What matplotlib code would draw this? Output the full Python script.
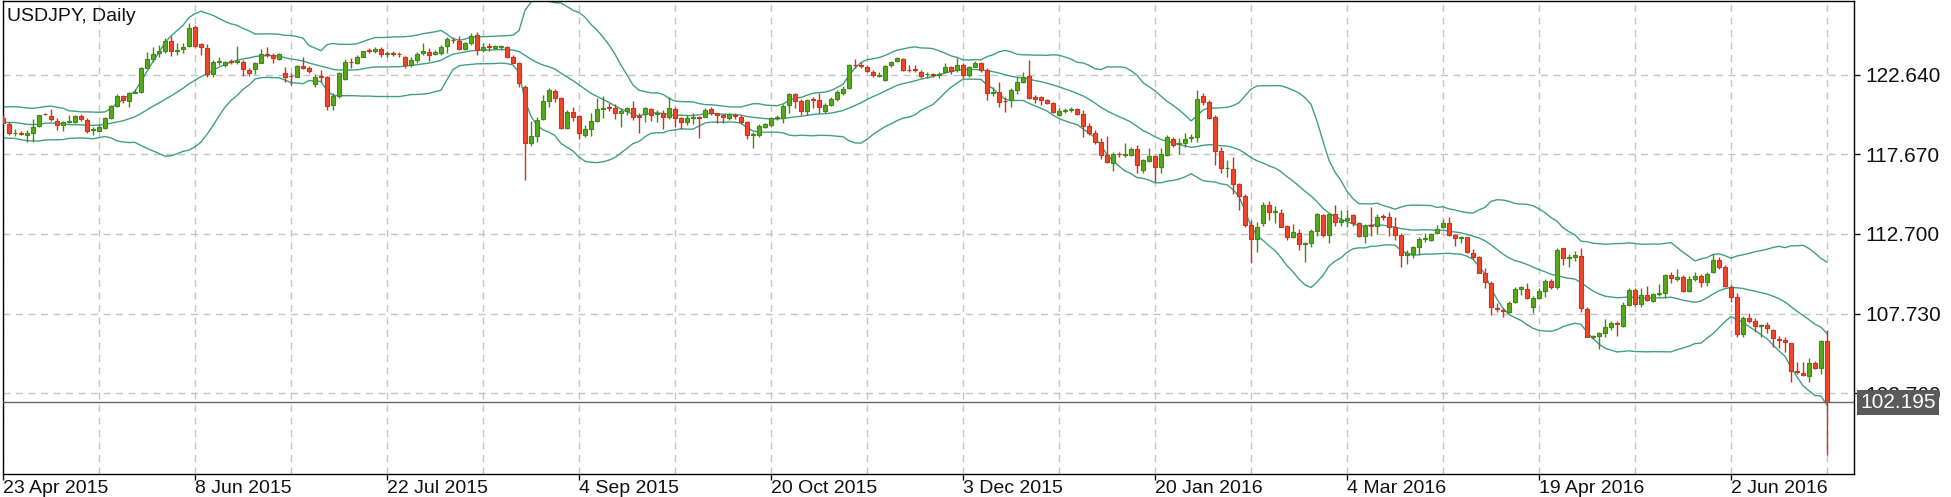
import numpy as np
import pandas as pd
import matplotlib
matplotlib.use('Agg')
import matplotlib.pyplot as plt
import matplotlib.transforms as mtransforms

# closes before the first visible bar (only used to seed the 20-bar bands)
pre_closes = [119.20, 119.10, 120.10, 120.10, 119.70, 119.75, 118.95, 119.45, 120.20, 120.20,
              120.60, 120.20, 120.10, 119.40, 119.60, 118.90, 118.95, 119.45, 119.75]

opens = [
    119.92, 119.56, 118.98, 119.02, 118.88, 119.02, 119.44, 120.21, 120.06, 119.77,
    119.48, 119.70, 119.67, 120.06, 119.81, 119.19, 119.15, 119.29, 119.94, 120.69,
    121.31, 121.02, 121.52, 121.58, 123.08, 123.60, 124.00, 124.14, 124.74, 124.14,
    124.26, 124.43, 125.64, 124.53, 124.28, 122.68, 123.45, 123.24, 123.48, 123.45,
    123.43, 122.93, 122.97, 123.39, 123.93, 123.87, 123.64, 122.77, 122.58, 122.52,
    123.18, 123.08, 122.06, 122.58, 122.47, 120.73, 121.31, 122.35, 123.45, 123.35,
    123.76, 124.18, 124.14, 124.26, 123.93, 123.97, 123.93, 123.72, 123.24, 123.55,
    123.97, 124.08, 123.91, 124.01, 124.43, 124.82, 124.76, 124.22, 124.64, 125.11,
    124.18, 124.43, 124.33, 124.35, 124.35, 123.72, 123.35, 121.85, 118.36, 118.81,
    119.85, 121.02, 121.64, 121.16, 119.33, 120.29, 120.06, 118.88, 119.23, 119.77,
    120.50, 120.60, 120.54, 120.23, 120.39, 120.54, 120.04, 120.19, 120.48, 120.17,
    120.23, 120.02, 120.50, 119.92, 119.71, 119.92, 119.98, 120.02, 120.48, 120.23,
    120.10, 119.92, 120.12, 120.02, 119.67, 118.88, 118.88, 119.40, 119.50, 119.94,
    119.94, 120.75, 121.41, 121.02, 120.39, 121.10, 121.06, 120.39, 120.75, 121.10,
    121.52, 121.79, 123.26, 123.24, 123.14, 122.83, 122.58, 122.31, 123.24, 123.51,
    123.60, 122.95, 122.97, 122.83, 122.66, 122.66, 122.64, 122.83, 123.10, 122.93,
    123.24, 122.62, 123.14, 123.35, 122.93, 121.52, 121.58, 121.02, 121.06, 121.68,
    122.20, 122.55, 121.23, 121.22, 121.06, 120.89, 120.12, 120.39, 120.43, 120.48,
    120.19, 119.44, 118.98, 118.46, 117.63, 117.15, 117.71, 117.63, 117.63, 117.98,
    116.69, 117.27, 117.57, 116.90, 117.63, 118.61, 118.30, 118.40, 118.67, 118.77,
    121.31, 120.96, 119.98, 117.90, 116.80, 116.73, 115.82, 115.07, 113.26, 112.37,
    113.36, 114.51, 114.07, 113.99, 113.20, 112.53, 112.74, 112.06, 112.12, 112.91,
    113.89, 112.64, 113.95, 113.47, 113.57, 113.89, 113.36, 112.57, 113.24, 113.20,
    113.82, 113.74, 113.11, 112.64, 111.39, 111.45, 111.91, 112.37, 112.33, 112.74,
    113.11, 113.36, 112.64, 112.43, 112.49, 111.49, 111.24, 110.24, 109.66, 108.06,
    107.96, 107.85, 108.43, 109.24, 109.24, 108.16, 108.68, 109.16, 109.79, 109.37,
    111.80, 111.18, 111.28, 111.33, 108.00, 106.29, 106.33, 106.54, 106.87, 107.12,
    106.96, 108.27, 109.20, 108.33, 108.89, 108.54, 108.95, 109.04, 110.14, 109.89,
    109.99, 109.16, 109.87, 110.08, 109.72, 110.35, 111.08, 110.62, 109.37, 108.75,
    106.46, 107.44, 107.29, 106.94, 107.02, 106.71, 106.13, 106.08, 105.88, 104.17,
    104.05, 103.84, 104.63, 104.32, 106.04,
]

highs = [
    120.10, 119.70, 119.28, 119.15, 119.20, 119.85, 120.15, 120.25, 120.52, 119.92,
    119.77, 120.12, 120.12, 120.19, 119.92, 119.40, 119.56, 120.00, 120.75, 121.43,
    121.37, 121.58, 121.72, 123.14, 124.08, 124.39, 124.49, 124.91, 125.05, 124.64,
    124.64, 125.84, 125.74, 124.64, 124.55, 123.55, 123.76, 123.51, 123.60, 124.43,
    123.55, 123.04, 123.45, 124.22, 124.35, 123.97, 123.97, 123.14, 122.72, 123.24,
    123.72, 123.18, 122.68, 122.93, 122.56, 121.47, 122.80, 123.60, 123.66, 123.87,
    124.14, 124.28, 124.39, 124.39, 124.10, 124.14, 124.05, 123.80, 123.72, 124.08,
    124.59, 124.28, 124.18, 124.49, 124.97, 124.97, 125.05, 124.68, 125.26, 125.28,
    124.59, 124.59, 124.49, 124.49, 124.43, 123.87, 123.45, 121.99, 119.77, 120.02,
    121.37, 121.79, 121.72, 121.23, 120.44, 120.60, 120.12, 119.50, 120.23, 121.16,
    121.31, 120.85, 120.81, 120.54, 120.64, 121.02, 120.23, 120.64, 120.54, 120.44,
    120.44, 121.23, 120.60, 120.02, 120.12, 120.23, 120.06, 120.54, 120.60, 120.27,
    120.19, 120.27, 120.23, 120.12, 119.77, 119.08, 119.56, 119.65, 120.00, 120.12,
    120.81, 121.47, 121.52, 121.10, 121.10, 121.27, 121.47, 120.85, 121.23, 121.68,
    121.93, 123.30, 123.60, 123.45, 123.24, 122.93, 122.83, 123.24, 123.51, 123.76,
    123.66, 123.24, 123.24, 122.93, 122.83, 122.72, 122.83, 123.35, 123.18, 123.66,
    123.35, 123.18, 123.51, 123.45, 123.03, 121.89, 122.20, 121.27, 121.79, 122.51,
    122.83, 123.55, 121.37, 121.31, 121.10, 120.95, 120.54, 120.54, 120.60, 120.54,
    120.43, 119.60, 119.19, 118.67, 118.81, 117.83, 117.83, 118.35, 118.15, 118.25,
    117.36, 118.05, 117.63, 118.05, 118.88, 118.77, 118.67, 119.02, 118.94, 121.68,
    121.47, 121.06, 120.12, 118.15, 117.31, 117.48, 115.90, 115.22, 113.57, 113.47,
    114.72, 114.78, 114.45, 114.24, 113.26, 113.32, 112.99, 112.22, 112.99, 113.99,
    113.95, 114.03, 114.51, 114.20, 114.20, 113.95, 113.47, 113.32, 114.36, 113.95,
    113.95, 114.09, 113.78, 112.74, 111.70, 111.95, 112.49, 112.78, 112.78, 113.26,
    113.61, 113.74, 112.70, 112.57, 112.53, 111.74, 111.33, 110.56, 109.79, 108.37,
    108.06, 108.54, 109.37, 109.45, 109.62, 108.83, 109.31, 109.87, 109.87, 111.80,
    111.85, 111.45, 111.66, 111.80, 108.12, 106.40, 106.60, 107.37, 107.29, 107.29,
    108.48, 109.31, 109.31, 109.31, 109.45, 108.99, 109.58, 110.20, 110.35, 110.49,
    110.14, 110.08, 110.35, 110.20, 110.35, 111.45, 111.24, 110.76, 109.51, 109.04,
    107.58, 107.79, 107.44, 107.08, 107.23, 106.75, 106.33, 106.29, 105.92, 104.73,
    104.73, 104.94, 104.79, 106.08, 106.71,
]

lows = [
    119.55, 118.88, 118.80, 118.85, 118.46, 118.46, 119.40, 120.10, 119.77, 119.19,
    119.15, 119.60, 119.60, 119.77, 119.02, 118.88, 119.10, 119.23, 119.90, 120.64,
    120.89, 120.64, 121.47, 121.52, 123.04, 123.45, 123.76, 123.97, 123.80, 123.87,
    124.01, 124.39, 124.39, 123.87, 122.47, 122.52, 123.24, 123.14, 123.30, 123.30,
    122.56, 122.56, 122.68, 123.35, 123.76, 123.35, 123.55, 122.20, 121.98, 122.47,
    122.97, 122.72, 121.85, 122.20, 120.44, 120.44, 121.20, 122.30, 123.04, 123.30,
    123.72, 124.01, 124.01, 123.76, 123.72, 123.80, 123.76, 123.04, 123.10, 123.35,
    123.87, 123.51, 123.87, 123.87, 123.97, 124.59, 124.18, 124.18, 124.49, 123.87,
    124.08, 124.14, 124.22, 124.18, 123.66, 123.35, 121.85, 116.07, 118.19, 118.46,
    119.81, 120.64, 120.96, 119.23, 119.23, 119.77, 118.61, 118.77, 118.81, 119.71,
    119.92, 120.39, 119.85, 119.40, 120.12, 119.81, 119.02, 119.71, 119.77, 119.71,
    119.23, 119.85, 119.40, 119.23, 119.50, 119.56, 118.67, 119.98, 120.12, 119.65,
    119.65, 119.81, 119.85, 119.56, 118.61, 118.04, 118.77, 119.29, 119.40, 119.81,
    119.60, 120.23, 120.54, 120.12, 120.12, 120.54, 120.27, 120.27, 120.69, 121.02,
    121.37, 121.72, 123.04, 123.04, 122.83, 122.47, 122.47, 122.27, 123.14, 123.45,
    122.89, 122.83, 122.83, 122.41, 122.41, 122.52, 122.41, 122.72, 122.68, 122.83,
    122.41, 122.47, 123.14, 122.83, 121.06, 121.31, 120.60, 120.33, 120.60, 121.43,
    122.14, 121.10, 120.85, 120.75, 120.81, 120.27, 120.06, 120.23, 120.33, 120.12,
    118.73, 118.87, 118.31, 117.36, 117.15, 116.65, 117.48, 117.52, 117.56, 116.48,
    116.52, 117.21, 115.96, 116.49, 117.56, 118.15, 117.69, 118.15, 118.46, 118.46,
    120.75, 119.85, 117.00, 116.53, 116.28, 115.20, 114.22, 113.14, 110.91, 111.60,
    113.20, 113.57, 113.36, 113.11, 112.33, 112.43, 111.70, 110.97, 111.87, 112.57,
    112.53, 112.12, 113.20, 113.20, 113.11, 113.20, 112.49, 112.16, 112.57, 112.70,
    113.57, 112.57, 112.33, 110.62, 110.83, 111.18, 111.39, 112.22, 112.28, 112.70,
    113.05, 112.57, 111.95, 112.16, 111.54, 111.12, 110.24, 109.31, 107.65, 107.85,
    107.54, 107.79, 108.41, 108.89, 108.62, 107.79, 108.62, 108.75, 109.24, 109.24,
    110.76, 110.62, 111.03, 107.85, 106.25, 106.13, 105.50, 106.25, 106.71, 106.33,
    106.92, 108.21, 108.21, 108.16, 108.54, 108.48, 108.83, 108.68, 109.66, 109.79,
    109.10, 109.10, 109.79, 109.37, 109.45, 110.29, 110.49, 109.37, 108.48, 106.29,
    106.29, 107.17, 106.60, 106.25, 106.50, 105.67, 105.56, 105.36, 103.48, 103.96,
    103.84, 103.48, 104.26, 103.96, 98.90,
]

closes = [
    119.65, 119.02, 119.02, 118.96, 119.00, 119.40, 120.12, 120.17, 119.90, 119.50,
    119.67, 119.77, 120.06, 119.85, 119.15, 119.23, 119.40, 119.92, 120.69, 121.31,
    121.06, 121.52, 121.58, 123.04, 123.60, 123.93, 124.10, 124.74, 124.14, 124.20,
    124.39, 125.55, 124.43, 124.35, 122.68, 123.45, 123.50, 123.43, 123.43, 123.50,
    122.97, 122.72, 123.35, 123.91, 123.89, 123.66, 123.91, 122.52, 122.54, 123.18,
    123.04, 122.87, 122.52, 122.52, 120.69, 121.31, 122.72, 123.43, 123.41, 123.76,
    124.12, 124.14, 124.26, 123.91, 123.97, 123.93, 123.91, 123.24, 123.55, 123.93,
    124.14, 123.87, 124.08, 124.39, 124.84, 124.78, 124.22, 124.64, 125.05, 124.18,
    124.39, 124.37, 124.41, 124.43, 123.72, 123.39, 122.10, 118.36, 118.81, 119.81,
    121.02, 121.68, 121.16, 119.33, 120.29, 120.02, 119.02, 119.23, 119.77, 120.50,
    120.54, 120.56, 120.23, 120.39, 120.58, 120.02, 120.02, 120.58, 120.12, 120.23,
    120.02, 120.54, 119.92, 119.71, 119.92, 119.98, 119.92, 120.44, 120.23, 120.15,
    120.02, 120.19, 120.06, 119.71, 118.88, 118.92, 119.44, 119.56, 119.92, 120.02,
    120.69, 121.41, 121.02, 120.39, 121.06, 121.06, 120.60, 120.75, 121.10, 121.58,
    121.72, 123.24, 123.22, 123.20, 122.89, 122.62, 122.64, 123.18, 123.45, 123.66,
    122.93, 122.93, 122.93, 122.56, 122.70, 122.62, 122.70, 123.10, 122.89, 123.24,
    122.62, 123.10, 123.39, 122.93, 121.47, 121.58, 120.95, 121.00, 121.68, 122.20,
    122.51, 121.16, 121.14, 121.06, 120.89, 120.33, 120.39, 120.43, 120.48, 120.19,
    119.44, 119.02, 118.46, 117.63, 117.21, 117.69, 117.67, 117.67, 117.98, 117.00,
    117.32, 117.57, 116.90, 117.69, 118.73, 118.25, 118.36, 118.61, 118.77, 121.10,
    120.96, 119.92, 117.90, 116.80, 116.84, 115.84, 115.07, 113.26, 112.37, 113.12,
    114.51, 114.09, 114.11, 113.16, 112.49, 112.84, 112.08, 112.12, 112.91, 113.95,
    112.64, 113.95, 113.47, 113.57, 113.67, 113.36, 112.57, 113.20, 113.20, 113.78,
    113.74, 113.11, 112.64, 111.39, 111.49, 111.87, 112.37, 112.43, 112.70, 112.99,
    113.36, 112.64, 112.43, 112.49, 111.60, 111.28, 110.29, 109.73, 108.12, 108.00,
    107.92, 108.41, 109.24, 109.37, 108.68, 108.68, 109.16, 109.79, 109.37, 111.70,
    111.18, 111.24, 111.39, 108.06, 106.29, 106.35, 106.50, 106.87, 107.12, 107.08,
    108.27, 109.20, 108.33, 108.89, 108.58, 108.95, 109.04, 110.14, 109.93, 109.99,
    109.16, 109.87, 110.08, 109.72, 110.20, 111.08, 110.66, 109.45, 108.79, 106.46,
    107.44, 107.29, 106.96, 107.02, 106.81, 106.19, 106.08, 105.98, 104.17, 104.11,
    103.90, 104.63, 104.32, 106.04, 102.195,
]

date_labels = ['23 Apr 2015', '8 Jun 2015', '22 Jul 2015', '4 Sep 2015', '20 Oct 2015',
               '3 Dec 2015', '20 Jan 2016', '4 Mar 2016', '19 Apr 2016', '2 Jun 2016']
date_pos = [0, 32, 64, 96, 128, 160, 192, 224, 256, 288]
price_ticks = [102.760, 107.730, 112.700, 117.670, 122.640]
last_price = 102.195

df = pd.DataFrame({'open': opens, 'high': highs, 'low': lows, 'close': closes})

# bollinger bands (20, 2)
all_close = pd.Series(pre_closes + closes)
n_pre = len(pre_closes)
mid = all_close.rolling(20).mean().iloc[n_pre:].values
sd = all_close.rolling(20).std(ddof=0).iloc[n_pre:].values
upper = mid + 2 * sd
lower = mid - 2 * sd

plt.rcParams['font.family'] = ['Liberation Sans', 'DejaVu Sans']

fig = plt.figure(figsize=(19.51, 4.97), dpi=100)
ax = fig.add_axes([2.5 / 1951, 23 / 497, 1851.5 / 1951, 473 / 497])

x = np.arange(len(df))
up = (df['close'] >= df['open']).values
fill = np.where(up, '#58a81c', '#f0462a')
edge = np.where(up, '#3f8a10', '#c8341c')

ax.vlines(x, df['low'], df['high'], colors=edge, lw=1, zorder=3)
bottoms = np.minimum(df['open'], df['close'])
heights = np.maximum((df['close'] - df['open']).abs(), 0.015)
ax.bar(x, heights, bottom=bottoms, width=0.62, color=fill, edgecolor=edge,
       linewidth=0.8, zorder=4)

band_col = '#3f9f85'
for line in (upper, mid, lower):
    ax.plot(x, line, color=band_col, lw=1, zorder=2)

ax.set_xlim(-0.08, 308.5)
ax.set_ylim(97.72, 127.24)

# axes / ticks
ax.yaxis.tick_right()
ax.set_yticks(price_ticks)
ax.set_yticklabels(['%.3f' % v for v in price_ticks])
ax.set_xticks(date_pos)
ax.set_xticklabels(date_labels)
ax.set_xticks(np.arange(16, 310, 32), minor=True)
for lbl in ax.get_xticklabels():
    lbl.set_ha('left')
ax.tick_params(axis='both', which='major', direction='out', length=4, width=1,
               colors='#111111')
ax.tick_params(axis='y', which='major', pad=4, labelsize=15)
ax.tick_params(axis='x', which='major', pad=0, labelsize=14)
ax.tick_params(axis='x', which='minor', length=0)

grid_kw = dict(color='#c4c4c4', lw=1, ls=(0, (5, 4)))
ax.grid(True, axis='x', which='both', **grid_kw)
ax.grid(True, axis='y', which='major', **grid_kw)
ax.set_axisbelow(True)

for sp in ax.spines.values():
    sp.set_color('black')
    sp.set_linewidth(1)

# title
ax.text(0.0025, 0.985, 'USDJPY, Daily', transform=ax.transAxes, ha='left', va='top',
        fontsize=14, color='#111111')

# last price line and tag
ax.axhline(last_price, color='#666666', lw=1, zorder=5)
trans = mtransforms.blended_transform_factory(ax.transAxes, ax.transData)
ax.text(1.0032, last_price, '%.3f' % last_price, transform=trans, ha='left', va='center',
        fontsize=15, color='white', clip_on=False, zorder=10,
        bbox=dict(boxstyle='square,pad=0.15', fc='#5a5a5a', ec='none'))

fig.savefig('out.png', dpi=100)
plt.close(fig)
